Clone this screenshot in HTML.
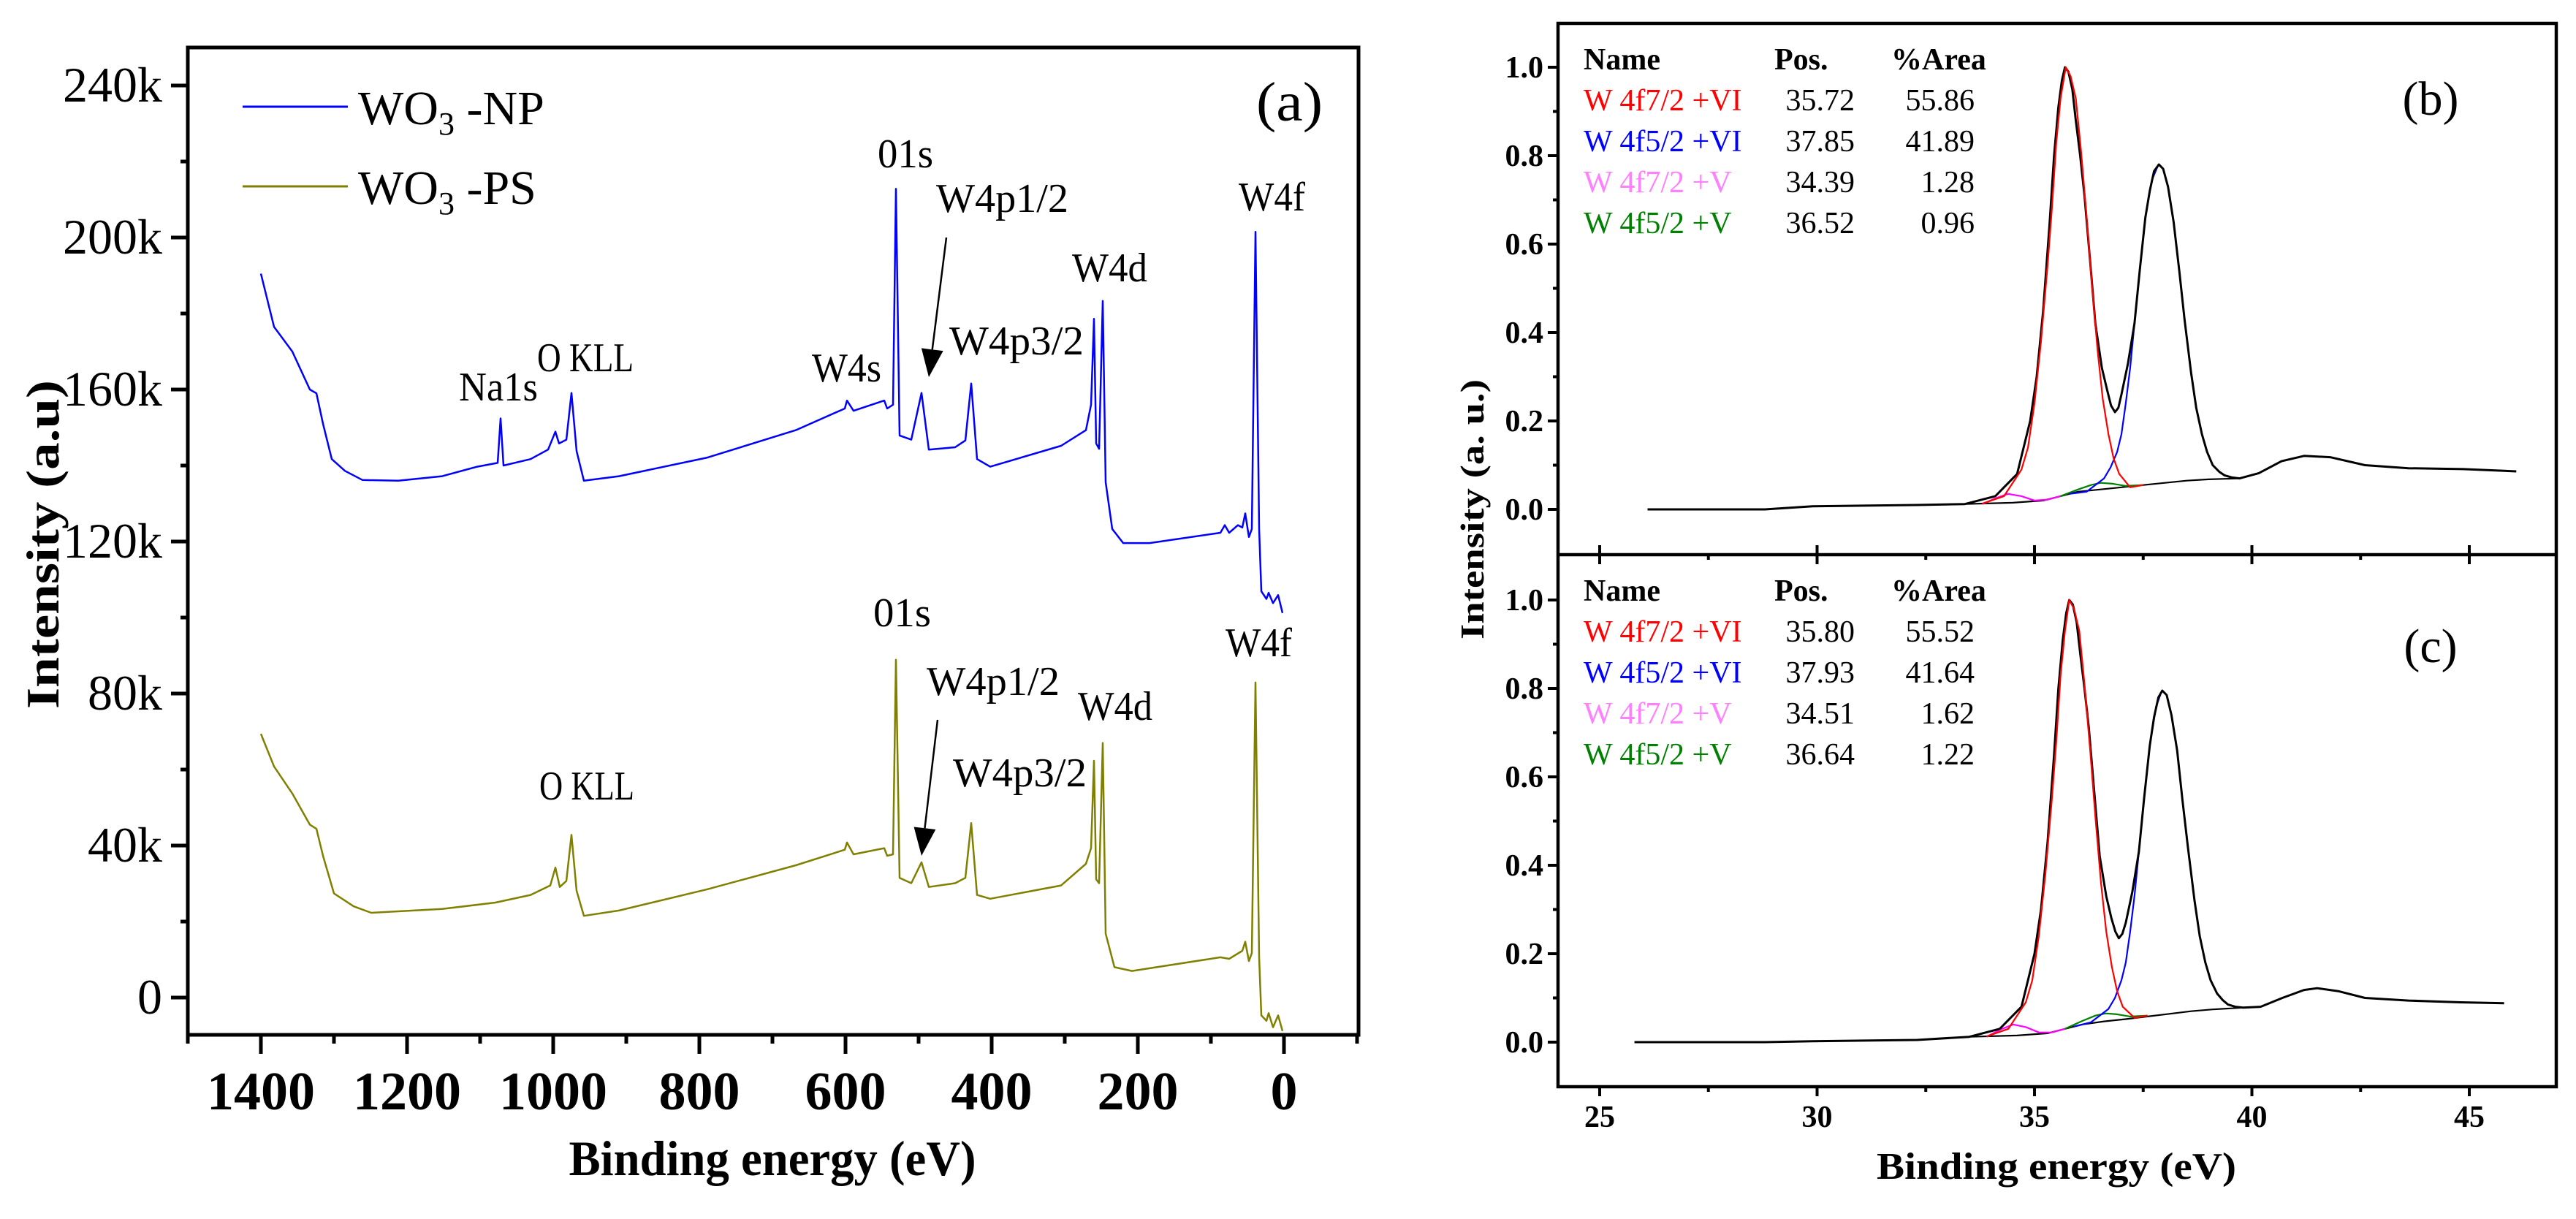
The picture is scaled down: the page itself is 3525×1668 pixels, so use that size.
<!DOCTYPE html>
<html><head><meta charset="utf-8"><style>
html,body{margin:0;padding:0;background:#fff;}
svg{display:block;font-family:"Liberation Serif",serif;}
</style></head><body>
<svg id="fig" width="3525" height="1668" viewBox="0 0 3525 1668" xmlns="http://www.w3.org/2000/svg"></svg>
<script>
// ---------- Panel (a) data: survey spectra ----------
const surveyNpBE = [1400,1382,1357,1333,1324,1315,1303,1285,1261,1212,1152,1104,1076,1072,1068,1031,1007,997,992,982,975,968,958,910,789,668,601,598,589,547,543,535,531,526,510,496,486,450,436,428,420,402,305,271,264,260,257,253,248,244,235,220,184,87,81,75,63,57,53,48,44,39,34,31,24,21,15,8,2];
const surveyNpI = [190.5,176.5,170,160,159,151,141.7,138.6,136.2,136,137.2,139.7,140.7,152.4,140,141.7,144.2,148.9,145.8,146.8,159.1,143.8,136,137.2,142.1,149.3,155,157.1,154.4,157.1,155,156,212.8,147.9,146.8,159.1,144.2,144.8,146.6,161.6,141.7,139.7,145.2,149.3,156,178.6,145.8,144.4,183.3,135.6,123.3,119.6,119.6,122.3,124.3,122.3,124.3,123.7,127.4,121.2,123.3,201.5,123.3,106.9,104.9,106.5,103.8,105.9,101.2];
const surveyPsBE = [1400,1382,1357,1333,1324,1315,1300,1273,1249,1152,1079,1031,1004,997,991,982,975,968,958,910,789,668,601,598,589,547,543,535,531,526,510,496,486,450,436,428,420,402,305,271,264,260,257,253,248,244,232,208,87,75,57,53,48,44,39,34,31,24,21,15,8,2];
const surveyPsI = [69.4,60.8,53.7,45.5,44.4,37.3,27.4,24,22.3,23.3,25,27,29.5,34.2,29.1,30.7,42.8,28.1,21.5,22.9,28.5,34.8,38.9,40.8,37.7,39.3,37.3,37.7,88.9,31.5,30.1,35.6,29.1,30.1,31.5,45.9,27,26,29.5,35.2,39.3,62.3,31.1,30.1,67,16.8,8,7,10.6,10.2,12.3,14.7,9.6,11.7,82.9,10.6,-4.7,-6.1,-4.1,-7.8,-4.7,-8.8];
const surveyXTicks = [1400,1200,1000,800,600,400,200,0];
const surveyXLabels = ["1400","1200","1000","800","600","400","200","0"];
const surveyYTicks = [0,40,80,120,160,200,240];
const surveyYLabels = ["0","40k","80k","120k","160k","200k","240k"];

// ---------- Panel (b) data: W4f fit, WO3-NP ----------
const bEnvBE = [26.1,28.8,29.9,32.3,33.4,34.1,34.6,34.9,35.05,35.2,35.35,35.45,35.55,35.63,35.7,35.78,35.87,35.95,36.05,36.15,36.28,36.4,36.55,36.67,36.76,36.85,36.93,37.0,37.15,37.3,37.42,37.55,37.65,37.75,37.86,37.96,38.07,38.2,38.33,38.45,38.6,38.72,38.85,38.97,39.1,39.25,39.37,39.55,39.72,40.16,40.68,41.2,41.8,42.6,43.6,44.86,46.08];
const bEnvI = [0,0,0.007,0.01,0.012,0.03,0.08,0.2,0.3,0.45,0.65,0.8,0.91,0.97,1.0,0.99,0.95,0.88,0.8,0.71,0.56,0.42,0.32,0.27,0.235,0.22,0.23,0.26,0.33,0.42,0.54,0.66,0.72,0.765,0.78,0.77,0.73,0.65,0.54,0.43,0.31,0.23,0.17,0.13,0.1,0.085,0.077,0.072,0.07,0.082,0.109,0.121,0.118,0.1,0.093,0.091,0.086];
const bBgBE = [33.4,34.5,35.2,35.6,36.0,36.5,37.0,37.5,38.0,38.5,39.0,39.7];
const bBgI = [0.012,0.015,0.02,0.03,0.04,0.045,0.05,0.055,0.06,0.065,0.068,0.07];
const bRedBE = [33.8,34.3,34.7,34.85,35.0,35.15,35.3,35.4,35.5,35.6,35.72,35.83,35.95,36.07,36.2,36.32,36.45,36.57,36.7,36.82,36.95,37.2,37.5];
const bRedI = [0.013,0.03,0.09,0.14,0.24,0.38,0.55,0.68,0.83,0.93,1.0,0.98,0.93,0.81,0.66,0.51,0.36,0.25,0.17,0.115,0.08,0.05,0.055];
const bBlueBE = [35.8,36.2,36.6,36.75,36.9,37.0,37.1,37.2,37.3,37.42,37.55,37.7,37.85];
const bBlueI = [0.035,0.04,0.07,0.095,0.13,0.17,0.24,0.32,0.42,0.54,0.66,0.745,0.78];
const bMagBE = [33.8,34.1,34.39,34.7,35.0,35.3,35.6];
const bMagI = [0.012,0.025,0.035,0.03,0.02,0.022,0.03];
const bGrnBE = [35.6,36.0,36.3,36.52,36.8,37.1,37.5];
const bGrnI = [0.03,0.045,0.055,0.06,0.058,0.053,0.055];

// ---------- Panel (c) data: W4f fit, WO3-PS ----------
const cEnvBE = [25.8,28.8,29.9,32.3,33.5,34.2,34.7,35.0,35.15,35.3,35.45,35.55,35.65,35.73,35.8,35.88,35.97,36.05,36.15,36.25,36.38,36.5,36.65,36.77,36.86,36.94,37.02,37.1,37.25,37.4,37.52,37.65,37.75,37.85,37.94,38.04,38.15,38.28,38.4,38.53,38.68,38.8,38.93,39.05,39.2,39.33,39.45,39.62,39.8,40.2,40.7,41.2,41.5,42.0,42.6,43.6,44.8,45.8];
const cEnvI = [0,0,0.002,0.005,0.012,0.03,0.08,0.2,0.3,0.45,0.65,0.8,0.91,0.97,1.0,0.99,0.95,0.88,0.8,0.71,0.56,0.42,0.33,0.28,0.25,0.235,0.245,0.27,0.34,0.43,0.55,0.67,0.735,0.78,0.795,0.785,0.74,0.66,0.55,0.44,0.32,0.24,0.18,0.14,0.11,0.095,0.085,0.08,0.078,0.08,0.1,0.118,0.122,0.115,0.1,0.094,0.09,0.088];
const cBgBE = [33.5,34.6,35.3,35.7,36.1,36.6,37.1,37.6,38.1,38.6,39.1,39.8];
const cBgI = [0.012,0.015,0.02,0.03,0.04,0.047,0.052,0.058,0.064,0.07,0.074,0.078];
const cRedBE = [33.9,34.4,34.8,34.95,35.1,35.25,35.4,35.5,35.6,35.7,35.8,35.91,36.03,36.15,36.28,36.4,36.53,36.65,36.78,36.9,37.03,37.3,37.6];
const cRedI = [0.013,0.03,0.09,0.14,0.24,0.38,0.55,0.68,0.83,0.93,1.0,0.98,0.93,0.81,0.66,0.51,0.36,0.25,0.17,0.115,0.08,0.055,0.06];
const cBlueBE = [35.9,36.3,36.7,36.85,37.0,37.1,37.2,37.3,37.4,37.52,37.65,37.8,37.93];
const cBlueI = [0.035,0.045,0.075,0.1,0.14,0.18,0.25,0.33,0.43,0.55,0.67,0.76,0.795];
const cMagBE = [33.9,34.2,34.51,34.8,35.1,35.4,35.7];
const cMagI = [0.012,0.028,0.04,0.034,0.022,0.022,0.03];
const cGrnBE = [35.7,36.1,36.4,36.64,36.9,37.2,37.6];
const cGrnI = [0.03,0.048,0.06,0.065,0.063,0.058,0.06];

const fitXTicks = [25,30,35,40,45];
const fitXLabels = ["25","30","35","40","45"];
const fitYTicks = [0,0.2,0.4,0.6,0.8,1.0];
const fitYLabels = ["0.0","0.2","0.4","0.6","0.8","1.0"];

const NS = "http://www.w3.org/2000/svg";
const svg = document.getElementById('fig');
function mk(tag, attrs, parent){
  const e = document.createElementNS(NS, tag);
  for (const k in attrs) e.setAttribute(k, attrs[k]);
  (parent||svg).appendChild(e);
  return e;
}
function txt(str, x, y, size, opts, parent){
  const o = opts||{};
  const t = mk('text', {x:x, y:y, 'font-size':size, fill:o.fill||'#000', 'text-anchor':o.anchor||'start', 'font-weight':o.bold?'bold':'normal'}, parent);
  if (o.len) { t.setAttribute('textLength', o.len); t.setAttribute('lengthAdjust','spacingAndGlyphs'); }
  if (o.rot) t.setAttribute('transform', o.rot);
  t.textContent = str;
  return t;
}
function pathFrom(xs, ys, fx, fy){
  let d = '';
  for (let i=0;i<xs.length;i++) d += (i?'L':'M') + fx(xs[i]).toFixed(1) + ',' + fy(ys[i]).toFixed(1);
  return d;
}

// ================= Panel (a) =================
const A = {L:257, R:1859, T:65, B:1416};
const ax = v => 1757 - (v - 0) * 1.0;
const ay = v => 1365 - v * 5.2;
const gA = mk('g', {});



const npPath = mk('path', {d: pathFrom(surveyNpBE, surveyNpI, ax, ay), fill:'none', stroke:'#0000ff', 'stroke-width':2.5, 'stroke-linejoin':'round'}, gA);


const psPath = mk('path', {d: pathFrom(surveyPsBE, surveyPsI, ax, ay), fill:'none', stroke:'#808000', 'stroke-width':2.5, 'stroke-linejoin':'round'}, gA);



const frameA = mk('rect', {x:A.L, y:A.T, width:A.R-A.L, height:A.B-A.T, fill:'none', stroke:'#000', 'stroke-width':5}, gA);



for (let v=1500; v>=-100; v-=100){
  const x = ax(v);
  if (x < A.L-1 || x > A.R+1) continue;
  const major = (v % 200 === 0);
  const tk = mk('line', {x1:x, x2:x, y1:A.B, y2:A.B + (major?26:12), stroke:'#000', 'stroke-width':5}, gA);
  
  
}
surveyXTicks.forEach((v,i)=>{
  const t = txt(surveyXLabels[i], ax(v), 1518, 74, {anchor:'middle', bold:true}, gA);
  
  
});
for (let v=-20; v<=250; v+=20){
  const y = ay(v);
  if (y < A.T || y > A.B) continue;
  const major = (v % 40 === 0);
  const tk = mk('line', {x1:A.L, x2:A.L-(major?23:10), y1:y, y2:y, stroke:'#000', 'stroke-width':5}, gA);
  
  
}
surveyYTicks.forEach((v,i)=>{
  const t = txt(surveyYLabels[i], 222, ay(v)+22, 68, {anchor:'end'}, gA);
  
  
});
</script>
<script>
// static annotations for panel (a)
(function(){
  const NS = "http://www.w3.org/2000/svg";
  const svg = document.getElementById('fig');
  function T(str,x,y,size,name,opts){
    const o=opts||{};
    const t=document.createElementNS(NS,'text');
    t.setAttribute('x',x);t.setAttribute('y',y);t.setAttribute('font-size',size);
    if(o.bold)t.setAttribute('font-weight','bold');
    if(o.anchor)t.setAttribute('text-anchor',o.anchor);
    if(o.fill)t.setAttribute('fill',o.fill);
    if(o.len){t.setAttribute('textLength',o.len);t.setAttribute('lengthAdjust','spacingAndGlyphs');}
    if(o.rot)t.setAttribute('transform',o.rot);
    
    
    t.textContent=str;svg.appendChild(t);return t;
  }
  const lab = [
    ["01s",1201,229,76],["W4p1/2",1281,290,181],["W4d",1467,385,103],["W4f",1695,288,91],
    ["W4p3/2",1299,485,184],["W4s",1111,522,95],["Na1s",628,548,108],["O KLL",735,508,132],
    ["01s",1195,857,79],["W4f",1677,898,91],["W4p1/2",1268,951,182],["W4d",1475,985,102],
    ["W4p3/2",1304,1076,183],["O KLL",738,1094,130]
  ];
  lab.forEach(l=>T(l[0],l[1],l[2],56,'peak-label',{len:l[3]}));
  T("(a)",1719,165,76,'panel-a-label',{len:91});
  function L(x1,y,x2,col,name){
    const e=document.createElementNS(NS,'line');
    e.setAttribute('x1',x1);e.setAttribute('x2',x2);e.setAttribute('y1',y);e.setAttribute('y2',y);
    e.setAttribute('stroke',col);e.setAttribute('stroke-width',3);
    
    
    svg.appendChild(e);
  }
  L(332,146,476,'#0000ff','legend-np-line');
  L(332,255,476,'#808000','legend-ps-line');
  const t1=T("WO",490,170,66,'legend-np-text');
  const s1=document.createElementNS(NS,'tspan');s1.setAttribute('font-size',44);s1.setAttribute('dy',14);s1.textContent='3';t1.appendChild(s1);
  const r1=document.createElementNS(NS,'tspan');r1.setAttribute('dy',-14);r1.textContent=' -NP';t1.appendChild(r1);
  const t2=T("WO",490,279,66,'legend-ps-text');
  const s2=document.createElementNS(NS,'tspan');s2.setAttribute('font-size',44);s2.setAttribute('dy',14);s2.textContent='3';t2.appendChild(s2);
  const r2=document.createElementNS(NS,'tspan');r2.setAttribute('dy',-14);r2.textContent=' -PS';t2.appendChild(r2);
  function arrow(x1,y1,x2,y2,name){
    const g=document.createElementNS(NS,'g');
    
    
    const dx=x2-x1,dy=y2-y1,len=Math.hypot(dx,dy),ux=dx/len,uy=dy/len;
    const hb=38,hw=15;
    const bx=x2-ux*hb,by=y2-uy*hb;
    const ln=document.createElementNS(NS,'line');
    ln.setAttribute('x1',x1);ln.setAttribute('y1',y1);ln.setAttribute('x2',bx);ln.setAttribute('y2',by);
    ln.setAttribute('stroke','#000');ln.setAttribute('stroke-width',2.5);g.appendChild(ln);
    const p=document.createElementNS(NS,'polygon');
    p.setAttribute('points',`${x2},${y2} ${bx-uy*hw},${by+ux*hw} ${bx+uy*hw},${by-ux*hw}`);
    g.appendChild(p);svg.appendChild(g);
  }
  arrow(1295,325,1271,516,'arrow-w4p12-np');
  arrow(1283,985,1261,1171,'arrow-w4p12-ps');
  T("Binding energy (eV)",1057,1608,68,'x-axis-title-a',{bold:true,anchor:'middle',len:557});
  T("Intensity (a.u)",80,745,64,'y-axis-title-a',{bold:true,anchor:'middle',len:450,rot:'rotate(-90 80 745)'});
})();
</script>
<script>
// ================= Panels (b) and (c) =================
(function(){
  const NS = "http://www.w3.org/2000/svg";
  const svg = document.getElementById('fig');
  const fx = v => 2189 + (v-25)*59.5;
  const L=2132, R=3498;
  function panel(key, top, bottom, zeroY, env, bg, red, blue, mag, grn, rows, tag, tagY){
    const fy = v => zeroY - v*605;
    const g = document.createElementNS(NS,'g');
    
    
    svg.appendChild(g);
    function P(xs,ys,col,name,w){
      let d='';for(let i=0;i<xs.length;i++)d+=(i?'L':'M')+fx(xs[i]).toFixed(1)+','+fy(ys[i]).toFixed(1);
      const p=document.createElementNS(NS,'path');
      p.setAttribute('d',d);p.setAttribute('fill','none');p.setAttribute('stroke',col);p.setAttribute('stroke-width',w||2.2);p.setAttribute('stroke-linejoin','round');
      
      
      g.appendChild(p);
    }
    P(bg[0],bg[1],'#000','background-'+key);
    P(mag[0],mag[1],'#ff00ff','w4f72-v-'+key);
    P(grn[0],grn[1],'#008000','w4f52-v-'+key);
    P(blue[0],blue[1],'#0000ff','w4f52-vi-'+key);
    P(env[0],env[1],'#000','envelope-'+key,3);
    P(red[0],red[1],'#ff0000','w4f72-vi-'+key);
    for(let v=-0.1; v<=1.101; v+=0.1){
      const vv=Math.round(v*10)/10; const y=fy(vv);
      if(y<top+2||y>bottom-2)continue;
      const major=Math.round(vv*10)%2===0;
      const tk=document.createElementNS(NS,'line');
      tk.setAttribute('x1',L);tk.setAttribute('x2',L-(major?14:7));tk.setAttribute('y1',y);tk.setAttribute('y2',y);
      tk.setAttribute('stroke','#000');tk.setAttribute('stroke-width',4);
      
      
      g.appendChild(tk);
    }
    fitYTicks.forEach((v,i)=>{
      const t=document.createElementNS(NS,'text');
      t.setAttribute('x',L-20);t.setAttribute('y',fy(v)+14);t.setAttribute('font-size',42);t.setAttribute('font-weight','bold');t.setAttribute('text-anchor','end');
      
      
      t.textContent=fitYLabels[i];g.appendChild(t);
    });
    const colors=['#ff0000','#0000ff','#ff80ff','#008000'];
    const hdr=[["Name",2167],["Pos.",2428],["%Area",2588]];
    hdr.forEach(h=>{
      const t=document.createElementNS(NS,'text');
      t.setAttribute('x',h[1]);t.setAttribute('y',top+63);t.setAttribute('font-size',42);t.setAttribute('font-weight','bold');
      
      
      t.textContent=h[0];g.appendChild(t);
    });
    rows.forEach((r,i)=>{
      const y=top+63+56*(i+1);
      const a=document.createElementNS(NS,'text');
      a.setAttribute('x',2167);a.setAttribute('y',y);a.setAttribute('font-size',42);a.setAttribute('fill',colors[i]);
      
      
      a.textContent=r[0];g.appendChild(a);
      const b=document.createElementNS(NS,'text');
      b.setAttribute('x',2538);b.setAttribute('y',y);b.setAttribute('font-size',42);b.setAttribute('text-anchor','end');
      
      
      b.textContent=r[1];g.appendChild(b);
      const c=document.createElementNS(NS,'text');
      c.setAttribute('x',2702);c.setAttribute('y',y);c.setAttribute('font-size',42);c.setAttribute('text-anchor','end');
      
      
      c.textContent=r[2];g.appendChild(c);
    });
    const tg=document.createElementNS(NS,'text');
    tg.setAttribute('x',3326);tg.setAttribute('y',tagY);tg.setAttribute('font-size',66);tg.setAttribute('text-anchor','middle');
    
    
    tg.textContent=tag;g.appendChild(tg);
  }
  panel('b',32,759,697,[bEnvBE,bEnvI],[bBgBE,bBgI],[bRedBE,bRedI],[bBlueBE,bBlueI],[bMagBE,bMagI],[bGrnBE,bGrnI],
    [["W 4f7/2 +VI","35.72","55.86"],["W 4f5/2 +VI","37.85","41.89"],["W 4f7/2 +V","34.39","1.28"],["W 4f5/2 +V","36.52","0.96"]],"(b)",157);
  panel('c',759,1487,1426,[cEnvBE,cEnvI],[cBgBE,cBgI],[cRedBE,cRedI],[cBlueBE,cBlueI],[cMagBE,cMagI],[cGrnBE,cGrnI],
    [["W 4f7/2 +VI","35.80","55.52"],["W 4f5/2 +VI","37.93","41.64"],["W 4f7/2 +V","34.51","1.62"],["W 4f5/2 +V","36.64","1.22"]],"(c)",906);

  const fr=document.createElementNS(NS,'rect');
  fr.setAttribute('x',L);fr.setAttribute('y',32);fr.setAttribute('width',R-L);fr.setAttribute('height',1487-32);
  fr.setAttribute('fill','none');fr.setAttribute('stroke','#000');fr.setAttribute('stroke-width',4.5);
  
  
  svg.appendChild(fr);
  const dv=document.createElementNS(NS,'line');
  dv.setAttribute('x1',L);dv.setAttribute('x2',R);dv.setAttribute('y1',759);dv.setAttribute('y2',759);
  dv.setAttribute('stroke','#000');dv.setAttribute('stroke-width',4.5);
  
  
  svg.appendChild(dv);
  for(let v=25; v<=46.9; v+=2.5){
    const x=fx(v); const major=(v%5===0);
    [[759-(major?13:0),759+(major?13:7)],[1487,1487+(major?13:7)]].forEach(s=>{
      const tk=document.createElementNS(NS,'line');
      tk.setAttribute('x1',x);tk.setAttribute('x2',x);tk.setAttribute('y1',s[0]);tk.setAttribute('y2',s[1]);
      tk.setAttribute('stroke','#000');tk.setAttribute('stroke-width',4);
      
      
      svg.appendChild(tk);
    });
  }
  fitXTicks.forEach((v,i)=>{
    const t=document.createElementNS(NS,'text');
    t.setAttribute('x',fx(v));t.setAttribute('y',1542);t.setAttribute('font-size',42);t.setAttribute('font-weight','bold');t.setAttribute('text-anchor','middle');
    
    
    t.textContent=fitXLabels[i];svg.appendChild(t);
  });
  const xt=document.createElementNS(NS,'text');
  xt.setAttribute('x',2814);xt.setAttribute('y',1613);xt.setAttribute('font-size',52);xt.setAttribute('font-weight','bold');xt.setAttribute('text-anchor','middle');
  xt.setAttribute('textLength',492);xt.setAttribute('lengthAdjust','spacingAndGlyphs');
  
  
  xt.textContent='Binding energy (eV)';svg.appendChild(xt);
  const yt=document.createElementNS(NS,'text');
  yt.setAttribute('x',2030);yt.setAttribute('y',697);yt.setAttribute('font-size',46);yt.setAttribute('font-weight','bold');yt.setAttribute('text-anchor','middle');
  yt.setAttribute('textLength',356);yt.setAttribute('lengthAdjust','spacingAndGlyphs');
  yt.setAttribute('transform','rotate(-90 2030 697)');
  
  
  yt.textContent='Intensity (a. u.)';svg.appendChild(yt);
})();
</script>
</body></html>
